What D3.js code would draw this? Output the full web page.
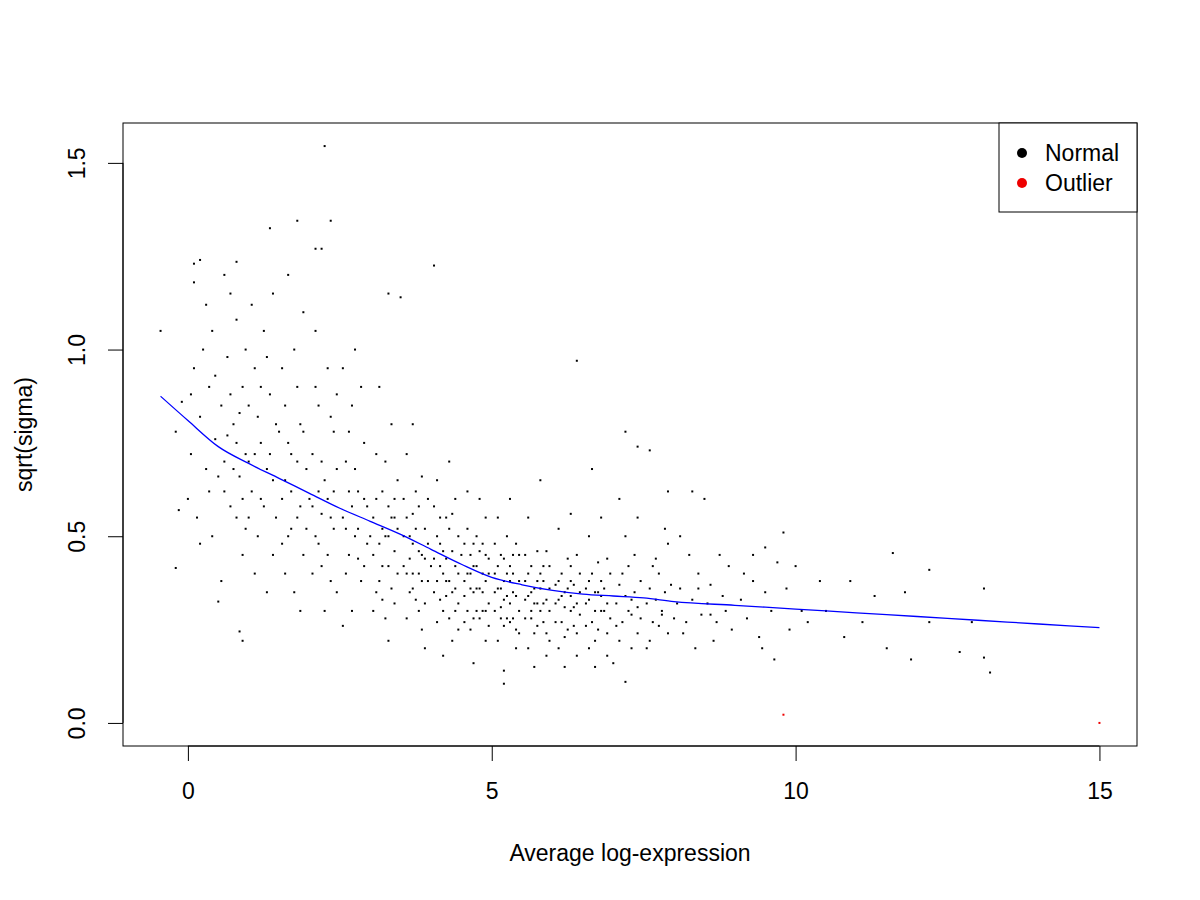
<!DOCTYPE html>
<html><head><meta charset="utf-8">
<script src="https://cdn.jsdelivr.net/npm/d3@7"></script>
<style>body{margin:0;background:#fff}text{font-family:"Liberation Sans",Arial,sans-serif}</style>
</head><body><svg id="c" width="1200" height="900"></svg>
<script>
const xTicks=[0,5,10,15];
const yTicks=[0.0,0.5,1.0,1.5];
const legendLabels=["Normal","Outlier"];
const legendColors=["#000","#e00"];
const trend=[[-0.45,0.875],[0,0.81],[0.5,0.74],[1,0.695],[1.5,0.655],[2,0.615],[2.5,0.575],[3,0.54],[3.5,0.505],[4,0.465],[4.5,0.425],[5,0.39],[5.5,0.37],[6,0.355],[6.5,0.345],[7,0.34],[7.5,0.335],[8,0.325],[9,0.315],[10,0.305],[11,0.295],[12,0.285],[13,0.275],[14,0.265],[15,0.255]];
const outliers=[[9.8,0.022],[15.0,0.0]];
const points=[[-0.45,1.05],[2.25,1.545],[1.8,1.345],[2.35,1.345],[1.35,1.325],[2.1,1.27],[2.2,1.27],[0.1,1.23],[0.2,1.24],[4.05,1.225],[0.8,1.235],[3.3,1.15],[3.5,1.14],[6.4,0.97],[-0.2,0.415],[0.5,0.325],[0.85,0.245],[0.9,0.22],[5.2,0.105],[7.2,0.11],[13.2,0.135],[13.1,0.175],[12.7,0.19],[11.9,0.17],[11.6,0.455],[12.2,0.41],[11.8,0.35],[13.1,0.36],[12.9,0.27],[12.2,0.27],[10.4,0.38],[10.0,0.42],[9.8,0.51],[9.3,0.45],[9.5,0.47],[10.9,0.38],[11.3,0.34],[11.5,0.2],[10.8,0.23],[11.1,0.27],[10.5,0.3],[10.2,0.27],[8.5,0.6],[8.3,0.62],[7.9,0.62],[7.6,0.73],[7.4,0.74],[7.2,0.78],
[-0.2,0.78],[-0.1,0.86],[0,0.6],[0.05,0.72],[0.1,0.95],[0.15,0.55],[0.2,0.82],[0.25,1.0],[0.3,0.68],[0.35,0.9],[0.4,0.5],[0.45,0.76],[-0.15,0.57],[0.1,1.18],[0.3,1.12],[0.2,0.48],[0.4,1.05],[0.05,0.88],[0.35,0.62],[0.45,0.93],
[0.55,0.85],[0.6,0.7],[0.65,0.98],[0.7,0.58],[0.75,0.8],[0.8,1.08],[0.85,0.66],[0.9,0.9],[0.95,0.52],[0.6,0.62],[0.7,0.88],[0.8,0.75],[0.9,0.45],[0.95,1.0],[0.55,0.38],[0.65,0.77],[0.75,0.68],[0.85,0.83],[0.95,0.72],[0.7,1.15],[0.6,1.2],[0.9,0.6],[0.5,0.66],[0.8,0.55],
[1.0,0.85],[1.05,0.62],[1.1,0.95],[1.15,0.5],[1.2,0.75],[1.25,1.05],[1.3,0.68],[1.35,0.88],[1.4,0.45],[1.45,0.8],[1.0,0.55],[1.1,0.72],[1.2,0.6],[1.3,0.98],[1.4,0.65],[1.05,1.12],[1.15,0.82],[1.25,0.58],[1.35,0.72],[1.45,0.55],[1.1,0.4],[1.3,0.35],[1.2,0.9],[1.4,1.15],[1.0,0.7],[1.5,0.78],
[1.55,0.6],[1.6,0.85],[1.65,0.5],[1.7,0.72],[1.75,1.0],[1.8,0.55],[1.85,0.8],[1.9,0.45],[1.95,0.68],[1.55,0.95],[1.6,0.4],[1.65,0.75],[1.7,0.62],[1.75,0.35],[1.8,0.9],[1.85,0.58],[1.9,1.1],[1.95,0.52],[1.6,0.65],[1.7,0.52],[1.8,0.7],[1.9,0.78],[1.65,1.2],[1.85,0.3],[2.0,0.6],[1.55,0.48],
[2.05,0.72],[2.1,0.5],[2.15,0.85],[2.2,0.42],[2.25,0.65],[2.3,0.95],[2.35,0.55],[2.4,0.78],[2.45,0.35],[2.05,0.58],[2.1,0.9],[2.15,0.48],[2.2,0.7],[2.25,0.3],[2.3,0.6],[2.35,0.82],[2.4,0.52],[2.45,0.68],[2.1,1.05],[2.3,0.45],[2.4,0.62],[2.2,0.56],[2.05,0.4],[2.45,0.88],[2.15,0.62],[2.35,0.38],
[2.55,0.55],[2.6,0.7],[2.65,0.45],[2.7,0.85],[2.75,0.5],[2.8,0.62],[2.85,0.38],[2.9,0.75],[2.95,0.48],[2.55,0.95],[2.6,0.4],[2.65,0.62],[2.7,0.3],[2.75,0.68],[2.8,0.52],[2.85,0.9],[2.9,0.42],[2.95,0.58],[2.6,0.52],[2.7,0.58],[2.8,0.44],[2.9,0.6],[2.55,0.26],[2.75,1.0],[3.0,0.5],[2.65,0.78],
[3.05,0.45],[3.1,0.6],[3.15,0.38],[3.2,0.52],[3.25,0.7],[3.3,0.42],[3.35,0.55],[3.4,0.32],[3.45,0.65],[3.05,0.55],[3.1,0.35],[3.15,0.48],[3.2,0.62],[3.25,0.28],[3.3,0.5],[3.35,0.8],[3.4,0.46],[3.45,0.4],[3.1,0.72],[3.2,0.42],[3.3,0.58],[3.4,0.55],[3.05,0.3],[3.25,0.5],[3.35,0.36],[3.45,0.52],[3.15,0.9],[3.3,0.22],[3.2,0.33],[3.4,0.6],
[3.55,0.42],[3.6,0.55],[3.65,0.35],[3.7,0.48],[3.75,0.62],[3.8,0.3],[3.85,0.45],[3.9,0.52],[3.95,0.38],[3.55,0.6],[3.6,0.28],[3.65,0.5],[3.7,0.4],[3.75,0.33],[3.8,0.58],[3.85,0.25],[3.9,0.44],[3.95,0.6],[3.6,0.72],[3.7,0.36],[3.8,0.46],[3.9,0.32],[3.55,0.5],[3.65,0.44],[3.75,0.52],[3.85,0.38],[3.95,0.48],[3.6,0.4],[3.7,0.56],[3.8,0.4],[3.9,0.2],[3.7,0.8],[4.0,0.42],[3.85,0.66],
[4.05,0.35],[4.1,0.5],[4.15,0.42],[4.2,0.3],[4.25,0.55],[4.3,0.38],[4.35,0.46],[4.4,0.6],[4.45,0.32],[4.05,0.58],[4.1,0.27],[4.15,0.48],[4.2,0.4],[4.25,0.34],[4.3,0.52],[4.35,0.22],[4.4,0.42],[4.45,0.5],[4.1,0.38],[4.2,0.46],[4.3,0.28],[4.4,0.36],[4.05,0.44],[4.15,0.33],[4.25,0.44],[4.35,0.56],[4.45,0.4],[4.1,0.65],[4.3,0.7],[4.2,0.18],[4.4,0.3],[4.25,0.38],[4.35,0.35],[4.5,0.45],[4.15,0.55],[4.45,0.25],
[4.55,0.38],[4.6,0.3],[4.65,0.45],[4.7,0.35],[4.75,0.5],[4.8,0.28],[4.85,0.4],[4.9,0.55],[4.95,0.32],[4.55,0.48],[4.6,0.4],[4.65,0.25],[4.7,0.42],[4.75,0.36],[4.8,0.46],[4.85,0.3],[4.9,0.38],[4.95,0.44],[4.6,0.52],[4.7,0.28],[4.8,0.36],[4.9,0.22],[4.55,0.34],[4.65,0.36],[4.75,0.42],[4.85,0.48],[4.95,0.26],[4.6,0.62],[4.8,0.6],[4.7,0.16],[4.9,0.3],[4.75,0.3],[4.85,0.35],[4.65,0.4],[4.55,0.27],[4.95,0.4],[4.7,0.48],[4.9,0.45],
[5.05,0.35],[5.1,0.42],[5.15,0.28],[5.2,0.38],[5.25,0.5],[5.3,0.32],[5.35,0.4],[5.4,0.25],[5.45,0.45],[5.05,0.3],[5.1,0.22],[5.15,0.45],[5.2,0.33],[5.25,0.28],[5.3,0.42],[5.35,0.35],[5.4,0.48],[5.45,0.3],[5.1,0.36],[5.2,0.26],[5.3,0.38],[5.4,0.34],[5.05,0.4],[5.15,0.36],[5.25,0.4],[5.35,0.28],[5.45,0.38],[5.1,0.55],[5.3,0.6],[5.2,0.14],[5.4,0.2],[5.25,0.34],[5.35,0.45],[5.15,0.31],[5.45,0.24],[5.05,0.48],[5.3,0.27],[5.2,0.44],
[5.55,0.33],[5.6,0.4],[5.65,0.28],[5.7,0.36],[5.75,0.46],[5.8,0.3],[5.85,0.38],[5.9,0.24],[5.95,0.42],[5.55,0.28],[5.6,0.2],[5.65,0.42],[5.7,0.32],[5.75,0.26],[5.8,0.4],[5.85,0.32],[5.9,0.46],[5.95,0.3],[5.6,0.34],[5.7,0.24],[5.8,0.36],[5.9,0.33],[5.55,0.38],[5.65,0.35],[5.75,0.38],[5.85,0.27],[5.95,0.36],[5.6,0.55],[5.8,0.65],[5.7,0.15],[5.9,0.18],[5.75,0.32],[5.85,0.42],[5.65,0.3],[5.55,0.45],[5.95,0.22],
[6.05,0.32],[6.1,0.38],[6.15,0.27],[6.2,0.35],[6.25,0.44],[6.3,0.3],[6.35,0.37],[6.4,0.24],[6.45,0.4],[6.05,0.27],[6.1,0.2],[6.15,0.4],[6.2,0.31],[6.25,0.25],[6.3,0.38],[6.35,0.31],[6.4,0.45],[6.45,0.29],[6.1,0.33],[6.2,0.23],[6.3,0.34],[6.4,0.32],[6.05,0.37],[6.15,0.34],[6.25,0.36],[6.35,0.26],[6.45,0.35],[6.1,0.52],[6.3,0.56],[6.2,0.15],[6.4,0.18],[6.3,0.42],
[6.55,0.32],[6.6,0.38],[6.65,0.27],[6.7,0.35],[6.75,0.43],[6.8,0.3],[6.85,0.36],[6.9,0.24],[6.95,0.4],[6.55,0.26],[6.6,0.2],[6.65,0.4],[6.7,0.3],[6.75,0.25],[6.8,0.38],[6.85,0.3],[6.9,0.44],[6.95,0.28],[6.6,0.33],[6.7,0.22],[6.8,0.34],[6.9,0.32],[6.55,0.36],[6.75,0.35],[6.6,0.5],[6.8,0.55],[6.7,0.15],[6.9,0.18],[6.65,0.68],
[7.05,0.32],[7.1,0.37],[7.15,0.27],[7.2,0.34],[7.25,0.42],[7.3,0.29],[7.35,0.35],[7.4,0.24],[7.45,0.38],[7.05,0.26],[7.15,0.4],[7.25,0.3],[7.35,0.45],[7.1,0.22],[7.3,0.33],[7.4,0.31],[7.2,0.5],[7.4,0.55],[7.0,0.16],[7.3,0.2],[7.45,0.28],[7.1,0.6],
[7.55,0.32],[7.6,0.36],[7.65,0.27],[7.7,0.33],[7.75,0.4],[7.8,0.29],[7.85,0.35],[7.9,0.24],[7.95,0.37],[7.6,0.22],[7.7,0.44],[7.8,0.3],[7.9,0.48],[7.55,0.2],[7.75,0.26],[7.85,0.52],[7.65,0.42],
[8.05,0.32],[8.1,0.36],[8.2,0.27],[8.3,0.33],[8.4,0.4],[8.45,0.29],[8.15,0.24],[8.25,0.45],[8.35,0.2],[8.1,0.5],[8.4,0.36],[8.0,0.28],
[8.55,0.32],[8.6,0.37],[8.7,0.27],[8.8,0.34],[8.9,0.42],[8.65,0.22],[8.75,0.45],[8.85,0.3],[8.95,0.25],[8.6,0.29],
[9.1,0.33],[9.2,0.28],[9.3,0.38],[9.4,0.23],[9.5,0.35],[9.6,0.3],[9.7,0.43],[9.9,0.25],[9.15,0.4],[9.45,0.2],[9.65,0.17],[9.85,0.36],[10.1,0.3]];

const svg=d3.select("#c");
const L=123,R=1137,T=123,B=746;
const x=d3.scaleLinear().domain([-1.068,15.618]).range([L,R]);
const y=d3.scaleLinear().domain([-0.0618,1.6068]).range([B,T]);
svg.append("g").selectAll("rect").data(points).join("rect")
 .attr("x",d=>x(d[0])-1).attr("y",d=>y(d[1])-1).attr("width",2).attr("height",2).attr("fill","#000");
svg.append("g").selectAll("rect").data(outliers).join("rect")
 .attr("x",d=>x(d[0])-1).attr("y",d=>y(d[1])-1).attr("width",2).attr("height",2).attr("fill","#e00");
svg.append("path").datum(trend).attr("fill","none").attr("stroke","#0000ff").attr("stroke-width",1.3)
 .attr("d",d3.line().curve(d3.curveMonotoneX).x(d=>x(d[0])).y(d=>y(d[1])));
svg.append("rect").attr("x",L).attr("y",T).attr("width",R-L).attr("height",B-T).attr("fill","none").attr("stroke","#000");
const xa=svg.append("g").attr("transform",`translate(0,${B})`).call(d3.axisBottom(x).tickValues(xTicks).tickSize(15).tickPadding(14).tickSizeOuter(0));
const ya=svg.append("g").attr("transform",`translate(${L},0)`).call(d3.axisLeft(y).tickValues(yTicks).tickFormat(d3.format(".1f")).tickSize(15).tickSizeOuter(0));
[xa,ya].forEach(a=>{a.selectAll("text").attr("font-size",23).attr("font-family","Liberation Sans, Arial, sans-serif").attr("fill","#000");a.selectAll("line").attr("stroke","#000");});
xa.select(".domain").attr("d",`M${x(0)},0H${x(15)}`).attr("stroke","#000");
ya.select(".domain").attr("d",`M0,${y(0)}V${y(1.5)}`).attr("stroke","#000");
xa.selectAll(".tick text").attr("y",0).attr("dy",null).attr("transform","translate(0,47)").attr("dominant-baseline","middle");
ya.selectAll(".tick text").attr("transform","rotate(-90)").attr("text-anchor","middle").attr("x",0).attr("y",-46).attr("dy","0.35em");
svg.append("text").attr("x",(L+R)/2).attr("y",853).attr("dy","0.35em").attr("text-anchor","middle").attr("font-size",23).text("Average log-expression");
svg.append("text").attr("transform",`translate(24,${(T+B)/2}) rotate(-90)`).attr("dy","0.35em").attr("text-anchor","middle").attr("font-size",23).text("sqrt(sigma)");
const lg=svg.append("g");
lg.append("rect").attr("x",999).attr("y",T).attr("width",R-999).attr("height",89).attr("fill","#fff").attr("stroke","#000");
legendLabels.forEach((t,i)=>{
 lg.append("circle").attr("cx",1022).attr("cy",153+i*30).attr("r",5).attr("fill",legendColors[i]);
 lg.append("text").attr("x",1045).attr("y",153+i*30).attr("dy","0.35em").attr("font-size",23).text(t);
});
</script></body></html>
